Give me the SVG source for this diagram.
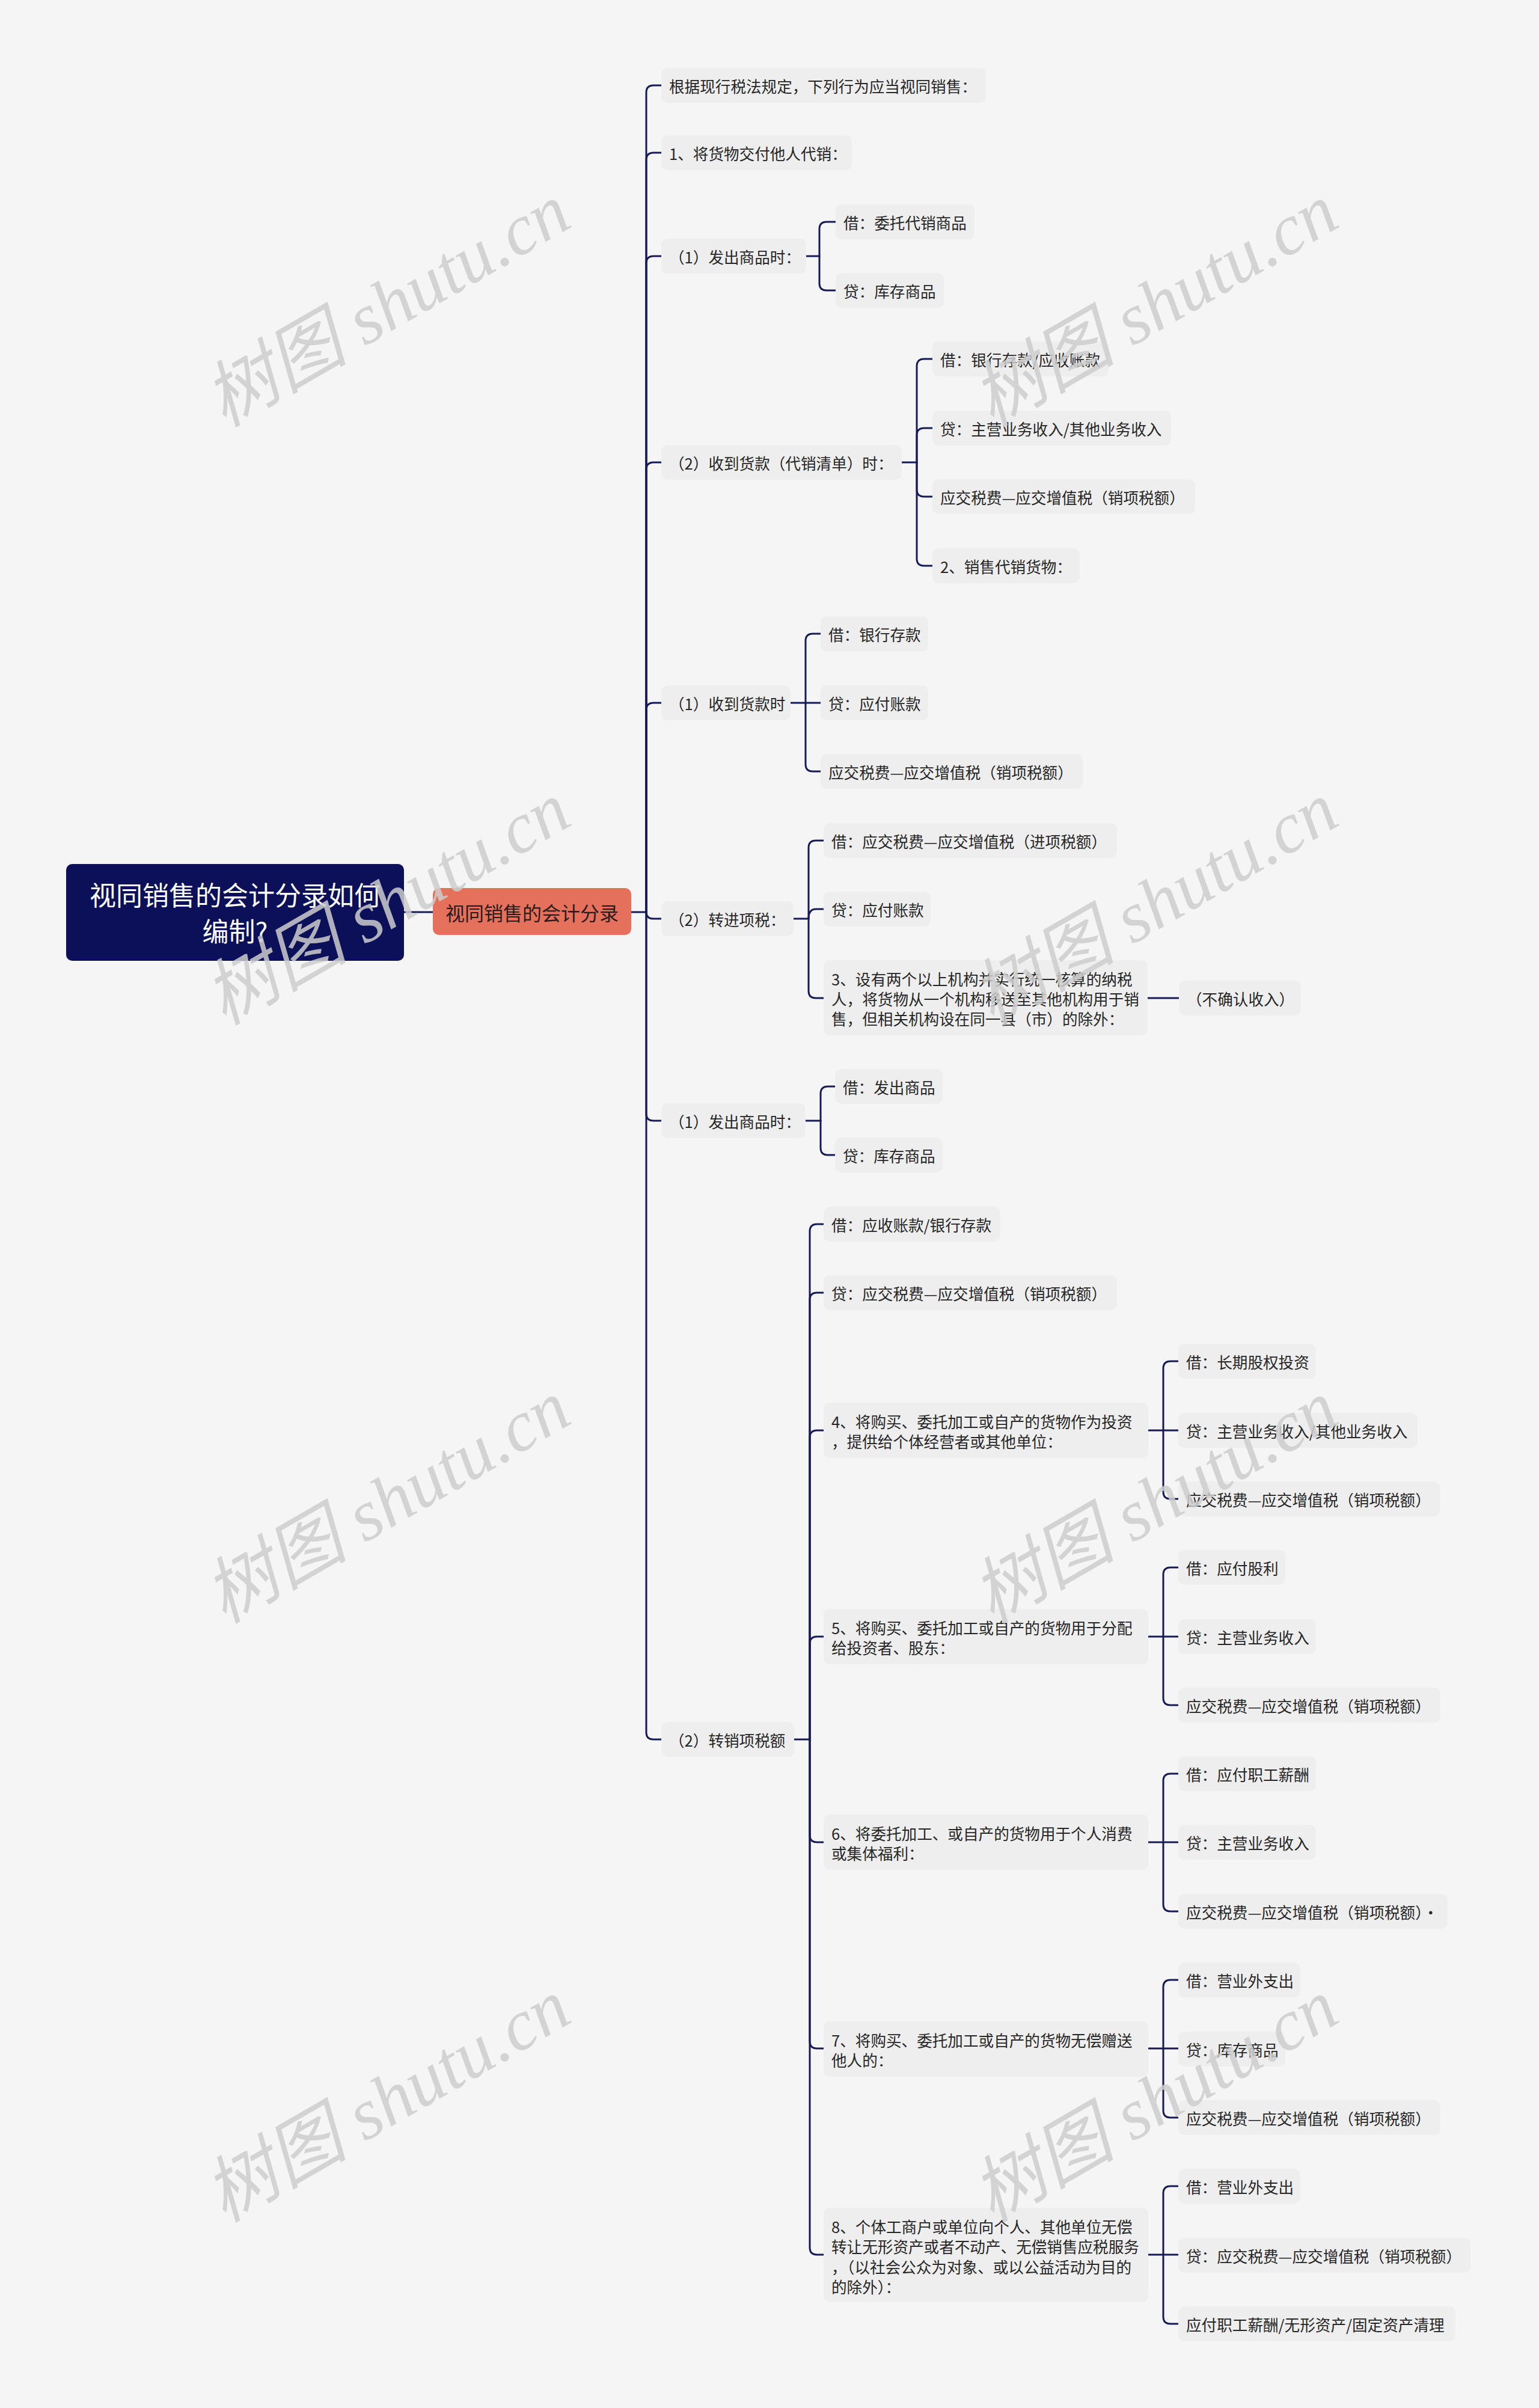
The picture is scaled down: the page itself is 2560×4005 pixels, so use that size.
<svg xmlns="http://www.w3.org/2000/svg" width="2560" height="4005" viewBox="0 0 2560 4005">
<style>
.n{fill:#eeeeee}
.t{font-family:"Noto Sans CJK SC","Noto Sans",sans-serif;font-size:25.6px;fill:#262626;dominant-baseline:central}
.c{fill:none;stroke:#161b55;stroke-width:3;stroke-linecap:round;stroke-linejoin:round}
.wm{font-family:"Liberation Serif","Noto Sans CJK SC",serif;font-style:italic;font-size:120px;fill:#cccccc;fill-opacity:0.85;text-anchor:middle;dominant-baseline:central}
</style>
<rect x="0" y="0" width="2560" height="4005" fill="#f5f5f5"/>

<g id="connectors">
<path class="c" d="M672,1517 H720"/>
<path class="c" d="M1050,1517 H1075"/>
<path class="c" d="M1075,1517 V154 Q1075,142 1087,142 H1100"/>
<path class="c" d="M1075,1517 V266 Q1075,254 1087,254 H1100"/>
<path class="c" d="M1075,1517 V438 Q1075,426 1087,426 H1100"/>
<path class="c" d="M1075,1517 V781 Q1075,769 1087,769 H1100"/>
<path class="c" d="M1075,1517 V1181 Q1075,1169 1087,1169 H1100"/>
<path class="c" d="M1075,1517 Q1075,1528 1087,1528 H1100"/>
<path class="c" d="M1075,1517 V1852 Q1075,1864 1087,1864 H1100"/>
<path class="c" d="M1075,1517 V2881 Q1075,2893 1087,2893 H1100"/>

<path class="c" d="M1341,426 H1363"/>
<path class="c" d="M1363,426 V381 Q1363,369 1375,369 H1390"/>
<path class="c" d="M1363,426 V471 Q1363,483 1375,483 H1390"/>

<path class="c" d="M1500,769 H1525"/>
<path class="c" d="M1525,769 V609 Q1525,597 1537,597 H1551"/>
<path class="c" d="M1525,769 V724 Q1525,712 1537,712 H1551"/>
<path class="c" d="M1525,769 V814 Q1525,826 1537,826 H1551"/>
<path class="c" d="M1525,769 V929 Q1525,941 1537,941 H1551"/>

<path class="c" d="M1315,1169 H1340"/>
<path class="c" d="M1340,1169 V1066 Q1340,1054 1352,1054 H1365"/>
<path class="c" d="M1340,1169 H1365"/>
<path class="c" d="M1340,1169 V1271 Q1340,1283 1352,1283 H1365"/>

<path class="c" d="M1320,1528 H1345"/>
<path class="c" d="M1345,1528 V1410 Q1345,1398 1357,1398 H1370"/>
<path class="c" d="M1345,1528 Q1345,1512 1357,1512 H1370"/>
<path class="c" d="M1345,1528 V1648 Q1345,1660 1357,1660 H1370"/>
<path class="c" d="M1909,1660 H1961"/>

<path class="c" d="M1340,1864 H1365"/>
<path class="c" d="M1365,1864 V1819 Q1365,1807 1377,1807 H1389"/>
<path class="c" d="M1365,1864 V1909 Q1365,1921 1377,1921 H1389"/>

<path class="c" d="M1321,2893 H1347"/>
<path class="c" d="M1347,2893 V2048 Q1347,2036 1359,2036 H1370"/>
<path class="c" d="M1347,2893 V2162 Q1347,2150 1359,2150 H1370"/>
<path class="c" d="M1347,2893 V2391 Q1347,2379 1359,2379 H1370"/>
<path class="c" d="M1347,2893 V2734 Q1347,2722 1359,2722 H1370"/>
<path class="c" d="M1347,2893 V3052 Q1347,3064 1359,3064 H1370"/>
<path class="c" d="M1347,2893 V3395 Q1347,3407 1359,3407 H1370"/>
<path class="c" d="M1347,2893 V3738 Q1347,3750 1359,3750 H1370"/>

<path class="c" d="M1910,2379 H1935"/>
<path class="c" d="M1935,2379 V2276 Q1935,2264 1947,2264 H1960"/>
<path class="c" d="M1935,2379 H1960"/>
<path class="c" d="M1935,2379 V2481 Q1935,2493 1947,2493 H1960"/>

<path class="c" d="M1910,2722 H1935"/>
<path class="c" d="M1935,2722 V2619 Q1935,2607 1947,2607 H1960"/>
<path class="c" d="M1935,2722 H1960"/>
<path class="c" d="M1935,2722 V2824 Q1935,2836 1947,2836 H1960"/>

<path class="c" d="M1910,3064 H1935"/>
<path class="c" d="M1935,3064 V2962 Q1935,2950 1947,2950 H1960"/>
<path class="c" d="M1935,3064 H1960"/>
<path class="c" d="M1935,3064 V3167 Q1935,3179 1947,3179 H1960"/>

<path class="c" d="M1910,3407 H1935"/>
<path class="c" d="M1935,3407 V3305 Q1935,3293 1947,3293 H1960"/>
<path class="c" d="M1935,3407 H1960"/>
<path class="c" d="M1935,3407 V3510 Q1935,3522 1947,3522 H1960"/>

<path class="c" d="M1910,3750 H1935"/>
<path class="c" d="M1935,3750 V3648 Q1935,3636 1947,3636 H1960"/>
<path class="c" d="M1935,3750 H1960"/>
<path class="c" d="M1935,3750 V3853 Q1935,3865 1947,3865 H1960"/>
</g>

<g id="root">
<rect x="110" y="1437" width="562" height="161" rx="10" fill="#0b1058"/>
<text x="391" y="1487" font-family="Noto Sans CJK SC, sans-serif" font-size="44" fill="#ffffff" text-anchor="middle" dominant-baseline="central">视同销售的会计分录如何</text>
<text x="391" y="1547" font-family="Noto Sans CJK SC, sans-serif" font-size="44" fill="#ffffff" text-anchor="middle" dominant-baseline="central">编制?</text>
</g>
<g id="main">
<rect x="720" y="1477" width="330" height="78" rx="10" fill="#e5705b"/>
<text x="885" y="1517" font-family="Noto Sans CJK SC, sans-serif" font-size="32" fill="#2a1c1c" text-anchor="middle" dominant-baseline="central">视同销售的会计分录</text>
</g>

<g id="n1"><rect class="n" x="1100" y="113" width="540" height="58" rx="10"/><text class="t" x="1113" y="142">根据现行税法规定，下列行为应当视同销售：</text></g>
<g id="n2"><rect class="n" x="1100" y="225" width="317" height="58" rx="10"/><text class="t" x="1113" y="254">1、将货物交付他人代销：</text></g>
<g id="n3"><rect class="n" x="1100" y="397" width="241" height="58" rx="10"/><text class="t" x="1113" y="426">（1）发出商品时：</text></g>
<g id="n3a"><rect class="n" x="1390" y="340" width="231" height="58" rx="10"/><text class="t" x="1403" y="369">借：委托代销商品</text></g>
<g id="n3b"><rect class="n" x="1390" y="454" width="180" height="58" rx="10"/><text class="t" x="1403" y="483">贷：库存商品</text></g>

<g id="n4"><rect class="n" x="1100" y="740" width="400" height="58" rx="10"/><text class="t" x="1113" y="769">（2）收到货款（代销清单）时：</text></g>
<g id="n4a"><rect class="n" x="1551" y="568" width="293" height="58" rx="10"/><text class="t" x="1564" y="597">借：银行存款/应收账款</text></g>
<g id="n4b"><rect class="n" x="1551" y="683" width="397" height="58" rx="10"/><text class="t" x="1564" y="712">贷：主营业务收入/其他业务收入</text></g>
<g id="n4c"><rect class="n" x="1551" y="797" width="437" height="58" rx="10"/><text class="t" x="1564" y="826">应交税费—应交增值税（销项税额）</text></g>
<g id="n4d"><rect class="n" x="1551" y="912" width="245" height="58" rx="10"/><text class="t" x="1564" y="941">2、销售代销货物：</text></g>

<g id="n5"><rect class="n" x="1100" y="1140" width="215" height="58" rx="10"/><text class="t" x="1113" y="1169">（1）收到货款时</text></g>
<g id="n5a"><rect class="n" x="1365" y="1025" width="179" height="58" rx="10"/><text class="t" x="1378" y="1054">借：银行存款</text></g>
<g id="n5b"><rect class="n" x="1365" y="1140" width="179" height="58" rx="10"/><text class="t" x="1378" y="1169">贷：应付账款</text></g>
<g id="n5c"><rect class="n" x="1365" y="1254" width="436" height="58" rx="10"/><text class="t" x="1378" y="1283">应交税费—应交增值税（销项税额）</text></g>

<g id="n6"><rect class="n" x="1100" y="1499" width="220" height="58" rx="10"/><text class="t" x="1113" y="1528">（2）转进项税：</text></g>
<g id="n6a"><rect class="n" x="1370" y="1369" width="488" height="58" rx="10"/><text class="t" x="1383" y="1398">借：应交税费—应交增值税（进项税额）</text></g>
<g id="n6b"><rect class="n" x="1370" y="1483" width="178" height="58" rx="10"/><text class="t" x="1383" y="1512">贷：应付账款</text></g>
<g id="n6c"><rect class="n" x="1370" y="1597" width="539" height="125" rx="10"/>
<text class="t" x="1383" y="1627">3、设有两个以上机构并实行统一核算的纳税</text>
<text class="t" x="1383" y="1660">人，将货物从一个机构移送至其他机构用于销</text>
<text class="t" x="1383" y="1693">售，但相关机构设在同一县（市）的除外：</text></g>
<g id="n6d"><rect class="n" x="1961" y="1631" width="203" height="58" rx="10"/><text class="t" x="1974" y="1660">（不确认收入）</text></g>

<g id="n7"><rect class="n" x="1100" y="1835" width="240" height="58" rx="10"/><text class="t" x="1113" y="1864">（1）发出商品时：</text></g>
<g id="n7a"><rect class="n" x="1389" y="1778" width="179" height="58" rx="10"/><text class="t" x="1402" y="1807">借：发出商品</text></g>
<g id="n7b"><rect class="n" x="1389" y="1892" width="179" height="58" rx="10"/><text class="t" x="1402" y="1921">贷：库存商品</text></g>

<g id="n8"><rect class="n" x="1100" y="2864" width="221" height="58" rx="10"/><text class="t" x="1113" y="2893">（2）转销项税额</text></g>
<g id="n8a"><rect class="n" x="1370" y="2007" width="294" height="58" rx="10"/><text class="t" x="1383" y="2036">借：应收账款/银行存款</text></g>
<g id="n8b"><rect class="n" x="1370" y="2121" width="488" height="58" rx="10"/><text class="t" x="1383" y="2150">贷：应交税费—应交增值税（销项税额）</text></g>

<g id="n9"><rect class="n" x="1370" y="2333" width="540" height="92" rx="10"/>
<text class="t" x="1383" y="2363">4、将购买、委托加工或自产的货物作为投资</text>
<text class="t" x="1383" y="2396">，提供给个体经营者或其他单位：</text></g>
<g id="n9a"><rect class="n" x="1960" y="2235" width="229" height="58" rx="10"/><text class="t" x="1973" y="2264">借：长期股权投资</text></g>
<g id="n9b"><rect class="n" x="1960" y="2350" width="398" height="58" rx="10"/><text class="t" x="1973" y="2379">贷：主营业务收入/其他业务收入</text></g>
<g id="n9c"><rect class="n" x="1960" y="2464" width="436" height="58" rx="10"/><text class="t" x="1973" y="2493">应交税费—应交增值税（销项税额）</text></g>

<g id="n10"><rect class="n" x="1370" y="2676" width="540" height="92" rx="10"/>
<text class="t" x="1383" y="2706">5、将购买、委托加工或自产的货物用于分配</text>
<text class="t" x="1383" y="2739">给投资者、股东：</text></g>
<g id="n10a"><rect class="n" x="1960" y="2578" width="178" height="58" rx="10"/><text class="t" x="1973" y="2607">借：应付股利</text></g>
<g id="n10b"><rect class="n" x="1960" y="2693" width="229" height="58" rx="10"/><text class="t" x="1973" y="2722">贷：主营业务收入</text></g>
<g id="n10c"><rect class="n" x="1960" y="2807" width="436" height="58" rx="10"/><text class="t" x="1973" y="2836">应交税费—应交增值税（销项税额）</text></g>

<g id="n11"><rect class="n" x="1370" y="3018" width="540" height="92" rx="10"/>
<text class="t" x="1383" y="3048">6、将委托加工、或自产的货物用于个人消费</text>
<text class="t" x="1383" y="3081">或集体福利：</text></g>
<g id="n11a"><rect class="n" x="1960" y="2921" width="229" height="58" rx="10"/><text class="t" x="1973" y="2950">借：应付职工薪酬</text></g>
<g id="n11b"><rect class="n" x="1960" y="3035" width="229" height="58" rx="10"/><text class="t" x="1973" y="3064">贷：主营业务收入</text></g>
<g id="n11c"><rect class="n" x="1960" y="3150" width="448" height="58" rx="10"/><text class="t" x="1973" y="3179">应交税费—应交增值税（销项税额）·</text></g>

<g id="n12"><rect class="n" x="1370" y="3362" width="540" height="92" rx="10"/>
<text class="t" x="1383" y="3392">7、将购买、委托加工或自产的货物无偿赠送</text>
<text class="t" x="1383" y="3425">他人的：</text></g>
<g id="n12a"><rect class="n" x="1960" y="3264" width="203" height="58" rx="10"/><text class="t" x="1973" y="3293">借：营业外支出</text></g>
<g id="n12b"><rect class="n" x="1960" y="3379" width="178" height="58" rx="10"/><text class="t" x="1973" y="3408">贷：库存商品</text></g>
<g id="n12c"><rect class="n" x="1960" y="3493" width="436" height="58" rx="10"/><text class="t" x="1973" y="3522">应交税费—应交增值税（销项税额）</text></g>

<g id="n13"><rect class="n" x="1370" y="3672" width="540" height="157" rx="10"/>
<text class="t" x="1383" y="3702">8、个体工商户或单位向个人、其他单位无偿</text>
<text class="t" x="1383" y="3735">转让无形资产或者不动产、无偿销售应税服务</text>
<text class="t" x="1383" y="3769">，（以社会公众为对象、或以公益活动为目的</text>
<text class="t" x="1383" y="3802">的除外）：</text></g>
<g id="n13a"><rect class="n" x="1960" y="3607" width="203" height="58" rx="10"/><text class="t" x="1973" y="3636">借：营业外支出</text></g>
<g id="n13b"><rect class="n" x="1960" y="3722" width="486" height="58" rx="10"/><text class="t" x="1973" y="3751">贷：应交税费—应交增值税（销项税额）</text></g>
<g id="n13c"><rect class="n" x="1960" y="3836" width="461" height="58" rx="10"/><text class="t" x="1973" y="3865">应付职工薪酬/无形资产/固定资产清理</text></g>

<g id="watermarks">
<text class="wm" transform="translate(644,508) rotate(-30)">树图 shutu.cn</text>
<text class="wm" transform="translate(1921,508) rotate(-30)">树图 shutu.cn</text>
<text class="wm" transform="translate(644,1503) rotate(-30)">树图 shutu.cn</text>
<text class="wm" transform="translate(1921,1503) rotate(-30)">树图 shutu.cn</text>
<text class="wm" transform="translate(644,2498) rotate(-30)">树图 shutu.cn</text>
<text class="wm" transform="translate(1921,2498) rotate(-30)">树图 shutu.cn</text>
<text class="wm" transform="translate(644,3494) rotate(-30)">树图 shutu.cn</text>
<text class="wm" transform="translate(1921,3494) rotate(-30)">树图 shutu.cn</text>
</g>
</svg>
